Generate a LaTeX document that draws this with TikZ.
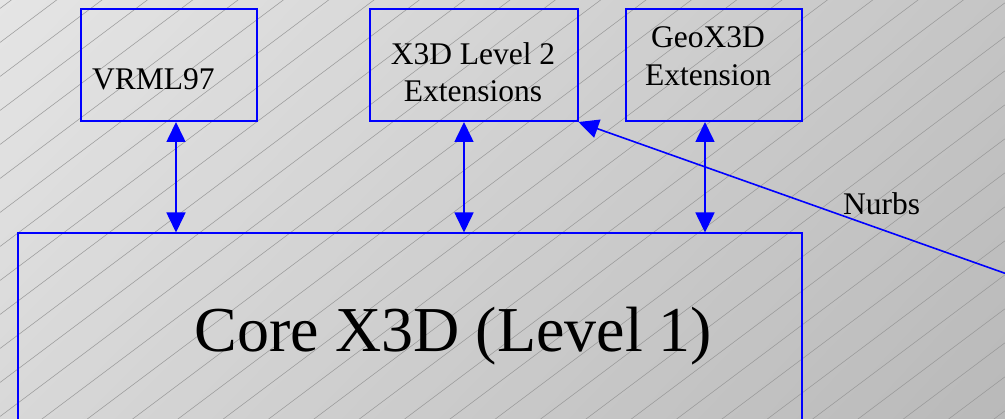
\documentclass[tikz,border=0pt]{standalone}
\usepackage{fontspec}
\setmainfont{Liberation Serif}
\newfontfamily\tnrfont{Liberation Serif}
\usetikzlibrary{arrows.meta,shadings}
\definecolor{boxblue}{RGB}{0,0,255}
\definecolor{hatchgray}{RGB}{150,150,150}
\definecolor{bgul}{RGB}{229,229,229}
\definecolor{bgur}{RGB}{197,197,197}
\definecolor{bgll}{RGB}{216,216,216}
\definecolor{bglr}{RGB}{185,185,185}
\begin{document}
\begin{tikzpicture}[x=1pt,y=-1pt,
  box/.style={draw=boxblue,line width=2pt,rectangle,inner sep=0pt,anchor=north west},
  conn/.style={draw=boxblue,line width=1.6pt,{Triangle[length=20pt,width=19pt]}-{Triangle[length=20pt,width=19pt]}},
  oneway/.style={draw=boxblue,line width=1.6pt,-{Triangle[length=20pt,width=19pt]}},
  lbl/.style={font=\tnrfont\fontsize{31.5}{37}\selectfont,inner sep=0pt,text=black},
  biglbl/.style={font=\tnrfont\fontsize{64}{70}\selectfont,inner sep=0pt,text=black},
  hatchline/.style={draw=hatchgray,line width=0.5pt}]
\useasboundingbox (0,0) rectangle (1005,419);
% background
\shade[upper left=bgul, upper right=bgur, lower left=bgll, lower right=bglr] (0,0) rectangle (1005,419);
\begin{scope}
  \clip (0,0) rectangle (1005,419);
  \foreach \k in {0,...,36} {
    \draw[hatchline] (0,8.5+34*\k) -- (1005,8.5+34*\k-753.75);
  }
\end{scope}
% boxes
\node[box,minimum width=176pt,minimum height=112pt] (vrml) at (80,8) {};
\node[box,minimum width=208pt,minimum height=112pt] (x3d) at (368.5,8) {};
\node[box,minimum width=176pt,minimum height=112pt] (geo) at (625,8) {};
\node[box,minimum width=784pt,minimum height=260pt] (corebox) at (16.5,232.5) {};
% texts
\node[lbl,anchor=base west] (vrmltxt) at (92,90) {VRML97};
\node[lbl,anchor=base] (x3da) at (473,65) {X3D Level 2};
\node[lbl,anchor=base] (x3db) at (473,102) {Extensions};
\node[lbl,anchor=base] (geoa) at (708,48) {GeoX3D};
\node[lbl,anchor=base] (geob) at (708,86) {Extension};
\node[biglbl,anchor=base] (coretxt) at (453.5,351.5) {Core X3D (Level 1)};
\node[lbl,anchor=base west] (nurbs) at (843,215) {Nurbs};
% connectors
\draw[conn] (176,0 |- vrml.south) -- (176,0 |- corebox.north);
\draw[conn] (464,0 |- x3d.south) -- (464,0 |- corebox.north);
\draw[conn] (705,0 |- geo.south) -- (705,0 |- corebox.north);
\coordinate (nurbsend) at (1100,307);
\draw[oneway] (nurbsend) -- (x3d.south east);
\end{tikzpicture}
\end{document}
